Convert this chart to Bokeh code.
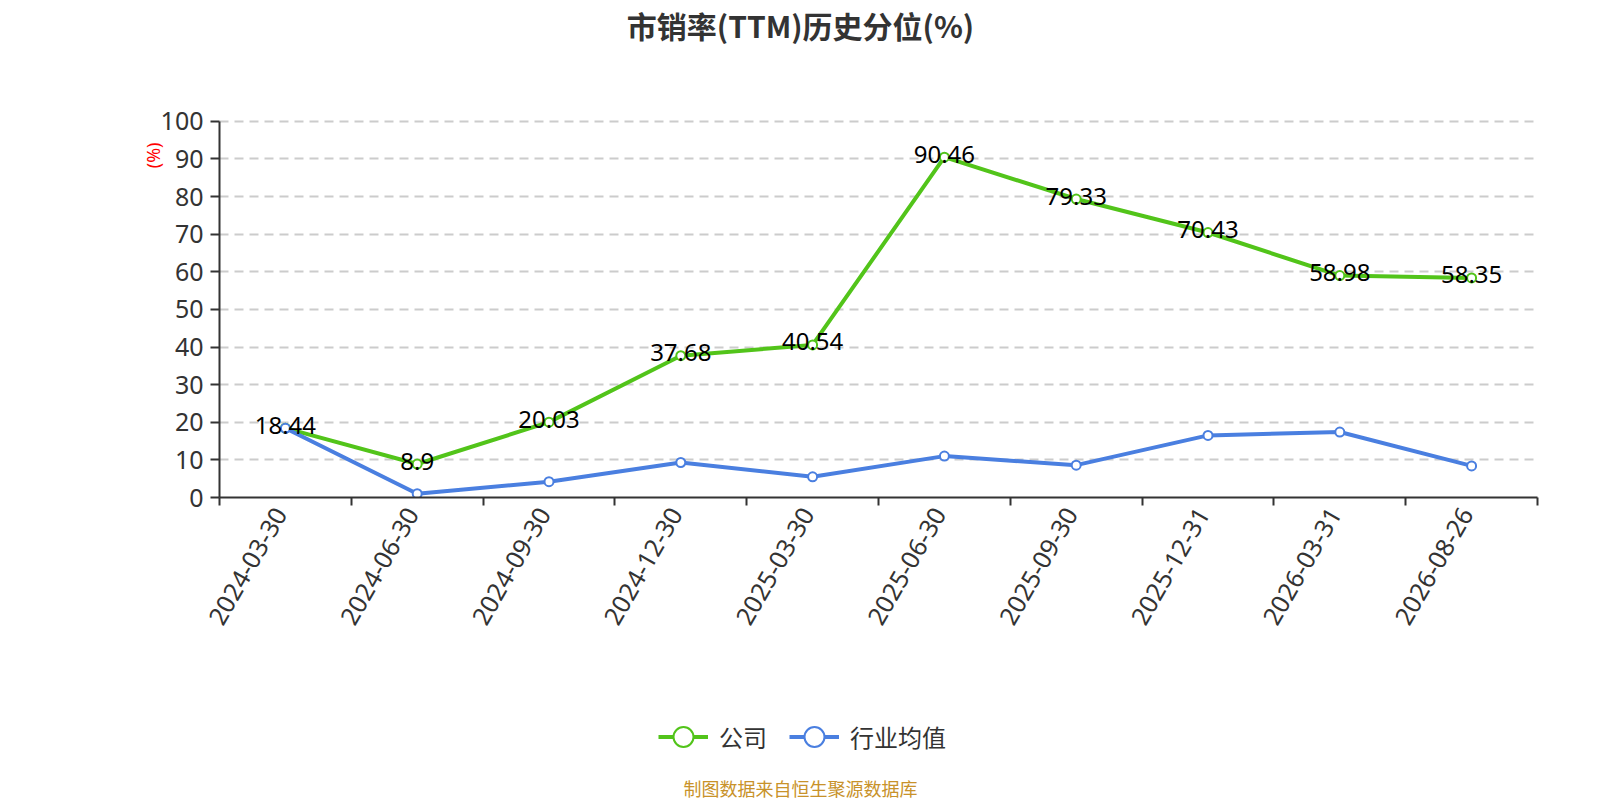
import math
from bokeh.plotting import figure
from bokeh.layouts import column
from bokeh.models import (Range1d, FixedTicker, ColumnDataSource, Label, Legend,
                          LegendItem, Title)
from bokeh.core.properties import value
from bokeh.embed import file_html
from bokeh.resources import INLINE

# ---- data ----
dates = ["2024-03-30", "2024-06-30", "2024-09-30", "2024-12-30", "2025-03-30",
         "2025-06-30", "2025-09-30", "2025-12-31", "2026-03-31", "2026-08-26"]
company = [18.44, 8.9, 20.03, 37.68, 40.54, 90.46, 79.33, 70.43, 58.98, 58.35]
industry = [18.4, 1.0, 4.2, 9.3, 5.5, 11.0, 8.6, 16.5, 17.4, 8.4]
y_ticks = [0, 10, 20, 30, 40, 50, 60, 70, 80, 90, 100]
series_names = ["公司", "行业均值"]
title_text = "市销率(TTM)历史分位(%)"
y_unit = "(%)"
source_text = "制图数据来自恒生聚源数据库"

GREEN = "#52c41a"
BLUE = "#4a7fe0"
DARK = "#333333"
CJK = "Noto Sans CJK SC"
LAT = "Noto Sans"
W = 1600
LEFT = 219      # page x of the plot frame's left edge
RIGHT = 63      # space right of the frame
CX = 800 - LEFT  # page centre, in frame pixels
LABEL_SHIFT = 0.038  # small leftward nudge of the rotated date labels


def blank_fig(h):
    f = figure(width=W, height=h, output_backend="svg", toolbar_location=None,
               x_range=Range1d(0, 1), y_range=Range1d(0, 1),
               x_axis_type=None, y_axis_type=None, min_border=0,
               min_border_left=LEFT, min_border_right=RIGHT, title=None)
    f.outline_line_color = None
    f.background_fill_color = "white"
    f.border_fill_color = "white"
    f.xgrid.visible = False
    f.ygrid.visible = False
    return f


# ---- title strip ----
top = blank_fig(60)
top.add_layout(Label(x=CX, y=36, x_units="screen", y_units="screen", text=title_text,
                     text_align="center", text_baseline="middle", text_font=CJK,
                     text_font_size="30px", text_font_style="bold", text_color=DARK))

# ---- main chart ----
n = len(dates)
xs = [i + 0.5 for i in range(n)]
label_pos = [round(x - LABEL_SHIFT, 3) for x in xs]

p = figure(width=W, height=640, output_backend="svg", toolbar_location=None,
           x_range=Range1d(0, n), y_range=Range1d(0, 101),
           min_border_left=LEFT, min_border_right=RIGHT, min_border_top=57,
           min_border_bottom=203, title=None)
p.outline_line_color = None
p.background_fill_color = "white"
p.border_fill_color = "white"

xa = p.xaxis[0]
xa.ticker = FixedTicker(ticks=label_pos, minor_ticks=list(range(n + 1)))
xa.major_label_overrides = {x: d for x, d in zip(label_pos, dates)}
xa.major_label_orientation = math.pi / 3
xa.major_tick_line_color = None
xa.major_tick_out = 8
xa.major_tick_in = 0
xa.minor_tick_out = 8
xa.minor_tick_in = 0
xa.minor_tick_line_color = DARK
xa.minor_tick_line_width = 2
xa.axis_line_color = DARK
xa.axis_line_width = 2
xa.major_label_standoff = 4
xa.major_label_text_font = LAT
xa.major_label_text_font_size = "25px"
xa.major_label_text_color = DARK

ya = p.yaxis[0]
ya.ticker = FixedTicker(ticks=y_ticks)
ya.bounds = (0, 100)
ya.major_tick_out = 9
ya.major_tick_in = 0
ya.major_tick_line_color = DARK
ya.major_tick_line_width = 2
ya.minor_tick_line_color = None
ya.axis_line_color = DARK
ya.axis_line_width = 2
ya.major_label_standoff = 7
ya.major_label_text_font = LAT
ya.major_label_text_font_size = "25px"
ya.major_label_text_color = DARK

p.xgrid.grid_line_color = None
p.ygrid.ticker = FixedTicker(ticks=y_ticks[1:])
p.ygrid.grid_line_color = "#cccccc"
p.ygrid.grid_line_width = 2
p.ygrid.grid_line_dash = "9 6"

p.add_layout(Title(text=y_unit, align="right", offset=25, standoff=-14,
                   text_font=LAT, text_font_size="18px", text_font_style="normal",
                   text_color="#ff0000"), "left")

src = ColumnDataSource(dict(x=xs, company=company, industry=industry,
                            label=[f"{v:g}" for v in company]))

p.line("x", "company", source=src, line_color=GREEN, line_width=4)
p.scatter("x", "company", source=src, marker="circle", size=9,
          fill_color="white", line_color=GREEN, line_width=2)
p.line("x", "industry", source=src, line_color=BLUE, line_width=4)
p.scatter("x", "industry", source=src, marker="circle", size=9,
          fill_color="white", line_color=BLUE, line_width=2)
p.text("x", "company", text="label", source=src, text_align="center",
       text_baseline="middle", y_offset=-3, text_font=value(LAT),
       text_font_size="24px", text_color="#000000")

# ---- legend + source strip ----
bot = blank_fig(100)
proxy = ColumnDataSource(dict(x=[float("nan")], y=[float("nan")]))
gl = bot.line("x", "y", source=proxy, line_color=GREEN, line_width=4)
gs = bot.scatter("x", "y", source=proxy, marker="circle", fill_color="white",
                 line_color=GREEN, line_width=2)
bl = bot.line("x", "y", source=proxy, line_color=BLUE, line_width=4)
bs = bot.scatter("x", "y", source=proxy, marker="circle", fill_color="white",
                 line_color=BLUE, line_width=2)
legend = Legend(items=[LegendItem(label=series_names[0], renderers=[gl, gs]),
                       LegendItem(label=series_names[1], renderers=[bl, bs])],
                orientation="horizontal", location=(658 - LEFT, 36),
                glyph_width=50, glyph_height=55, label_standoff=11, spacing=22,
                padding=0, margin=0, border_line_color=None,
                background_fill_alpha=0, label_text_font=CJK,
                label_text_font_size="24px", label_text_color=DARK,
                label_text_baseline="middle")
bot.add_layout(legend, "center")
bot.add_layout(Label(x=CX, y=13, x_units="screen", y_units="screen", text=source_text,
                     text_align="center", text_baseline="middle", text_font=CJK,
                     text_font_size="18px", text_color="#C8922A"))

layout = column(top, p, bot, spacing=0)
open("out.html", "w").write(file_html(layout, INLINE))
